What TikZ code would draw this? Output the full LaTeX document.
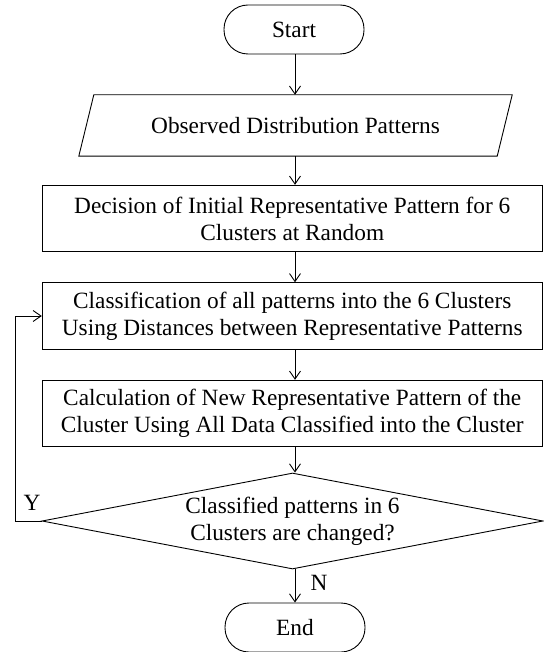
\documentclass[tikz,border=0pt]{standalone}
\usepackage{fontspec}
\setmainfont{Liberation Serif}
\usetikzlibrary{shapes.geometric,arrows.meta,calc}
\begin{document}
\begin{tikzpicture}[x=1pt,y=-1pt,
  every node/.style={font=\fontsize{23.3}{27}\selectfont, inner sep=0pt},
  line/.style={line width=0.9pt},
  arr/.style={line width=0.9pt, -{Straight Barb[length=8pt,width=11pt,line width=0.9pt]}},
  term/.style={draw, line width=0.9pt, rectangle, rounded corners=24pt, minimum width=140pt, minimum height=49pt},
  procbox/.style={draw, line width=0.9pt, rectangle, align=center, minimum width=500pt, minimum height=66.5pt},
  decide/.style={draw, line width=0.9pt, diamond, aspect=5.2, align=center, minimum width=501pt, minimum height=96pt}
]
\useasboundingbox (0,0) rectangle (543,652);
\node[term] (start) at (294,29.5) {Start};
\node[minimum width=433pt, minimum height=61pt] (obs) at (295.5,125.5) {Observed Distribution Patterns};
\draw[line] (obs.south west) -- ($(obs.north west)+(15,0)$) -- (obs.north east) -- ($(obs.south east)+(-15,0)$) -- cycle;
\node[procbox] (b1) at (292.25,218.5) {Decision of Initial Representative Pattern for 6\\Clusters at Random};
\node[procbox] (b2) at (292.25,316) {Classification of all patterns into the 6 Clusters\\Using Distances between Representative Patterns};
\node[procbox] (b3) at (292.25,413.5) {Calculation of New Representative Pattern of the\\Cluster Using All Data Classified into the Cluster};
\node[decide] (dia) at (292.5,521) {Classified patterns in 6\\Clusters are changed?};
\node[term] (end) at (295,627.5) {End};
\coordinate (ax) at (295,0);
\draw[arr] (start.south -| ax) -- (obs.north -| ax);
\draw[arr] (obs.south -| ax) -- (b1.north -| ax);
\draw[arr] (b1.south -| ax) -- (b2.north -| ax);
\draw[arr] (b2.south -| ax) -- (b3.north -| ax);
\draw[arr] (b3.south -| ax) -- (dia.north -| ax);
\draw[arr] (dia.south -| ax) -- (end.north -| ax);
\coordinate (loop) at (15.5,0);
\draw[arr] (dia.west) -- (dia.west -| loop) |- (b2.west);
\node (ylab) at (32,503) {Y};
\node (nlab) at (319,583) {N};
\end{tikzpicture}
\end{document}
